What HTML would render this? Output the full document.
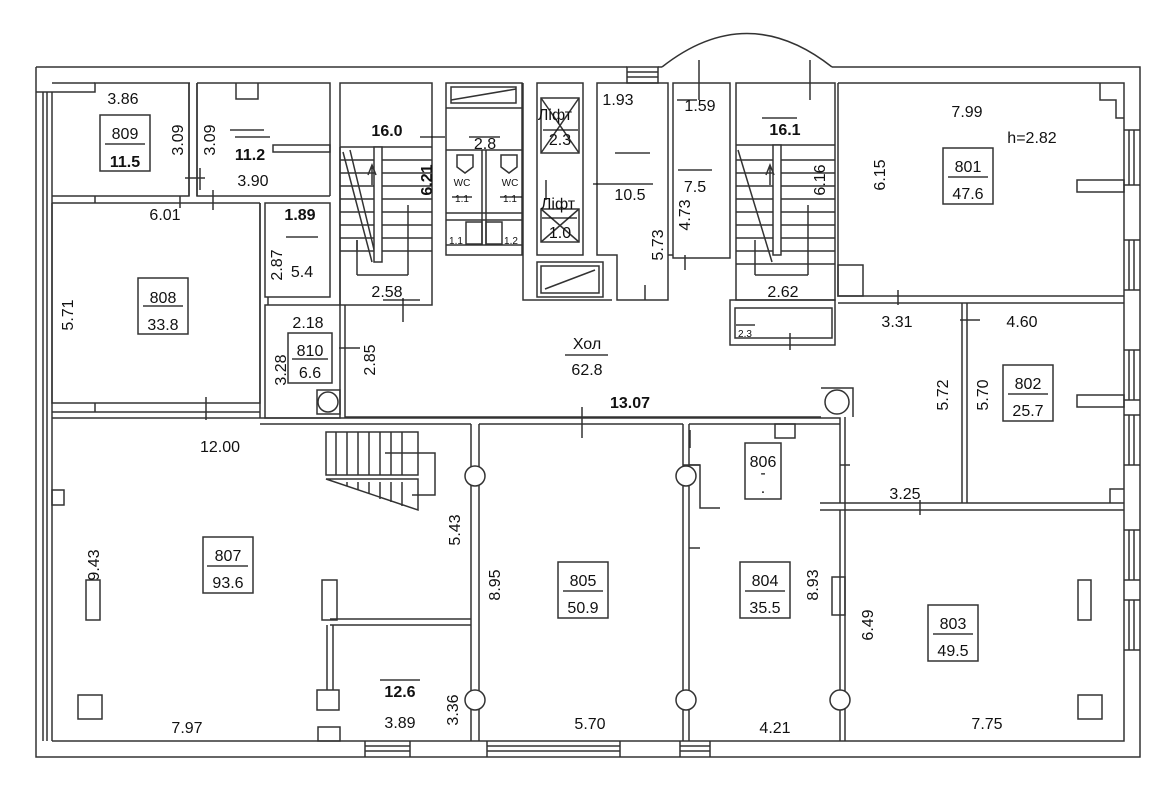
<!DOCTYPE html>
<html><head><meta charset="utf-8"><style>
body{margin:0;background:#fff;}
svg{display:block;}
text{font-family:"Liberation Sans",sans-serif;fill:#111;}
</style></head><body>
<svg width="1176" height="800" viewBox="0 0 1176 800" xmlns="http://www.w3.org/2000/svg">
<g fill="none" stroke="#333" stroke-width="1.5">
<!-- outer walls -->
<path d="M36 67 H627 M658 67 H662 M832 67 H1140 V757 H36 V67"/>
<path d="M36 92 H95 V83 H190 M197 83 H330 V196"/>
<path d="M43 92 V741 M47 92 V741 M52 92 V741"/>
<path d="M52 741 H1124 V83 H838"/>
<path d="M662 67 Q747 0 832 67"/>
<rect x="627" y="67" width="31" height="16"/><path d="M627 72H658M627 77H658"/>
<!-- windows right -->
<g><path d="M1124 130H1140M1124 185H1140M1129 130V185M1134 130V185"/>
<path d="M1124 240H1140M1124 290H1140M1129 240V290M1134 240V290"/>
<path d="M1124 350H1140M1124 400H1140M1129 350V400M1134 350V400"/>
<path d="M1124 415H1140M1124 465H1140M1129 415V465M1134 415V465"/>
<path d="M1124 530H1140M1124 580H1140M1129 530V580M1134 530V580"/>
<path d="M1124 600H1140M1124 650H1140M1129 600V650M1134 600V650"/></g>
<!-- windows bottom -->
<path d="M365 741V757M410 741V757M365 746H410M365 751H410"/>
<path d="M487 741V757M620 741V757M487 746H620M487 751H620"/>
<path d="M680 741V757M710 741V757M680 746H710M680 751H710"/>
<!-- 809 / 11.2 -->
<path d="M52 83 H95 M52 196 H95 V203 M95 196 H189 V83 M197 83 V196 H330"/>
<path d="M189 83 V196 M197 83 V196 M52 203 H260"/>
<path d="M236 83 V99 H258 V83"/>
<path d="M273 145 H330 V152 H273 Z"/>
<!-- 808 -->
<path d="M52 203 V403 H95 V412 M95 403 H260 V203 M260 418 H52"/>
<path d="M52 412 H260 M260 203 V418"/>
<!-- 5.4 / 810 -->
<path d="M265 203 H330 V297 H265 Z M265 305 H340 V418 H265 Z M345 305 V418"/>
<rect x="317" y="390" width="23" height="24"/><circle cx="328" cy="402" r="10"/>
<!-- stair 16.0 -->
<rect x="340" y="83" width="92" height="222"/>
<path d="M340 147 H432 M340 147 V305"/>
<path d="M340 160H432M340 173H432M340 186H432M340 199H432M340 212H432M340 225H432M340 238H432M340 251H432"/>
<path d="M343 152 L372 262 M350 150 L377 262"/>
<rect x="374" y="147" width="8" height="115" fill="#fff"/>
<path d="M357 275 V240 M408 275 V205 M357 275 H408"/>
<path d="M372 185V165M368 175L372 165L376 175M357 250V240"/>
<!-- WC block -->
<rect x="446" y="83" width="76" height="172"/>
<rect x="451" y="87" width="65" height="16"/><path d="M451 100 L516 89"/>
<path d="M446 108H522M446 150H522M446 213H522M446 220H522M446 245H522"/>
<path d="M482 150V245M486 150V245"/>
<path d="M457 155h16v12l-8 6l-8-6z M501 155h16v12l-8 6l-8-6z"/>
<rect x="466" y="222" width="16" height="22"/><rect x="486" y="222" width="16" height="22"/>
<!-- lift column -->
<rect x="537" y="83" width="46" height="172"/>
<rect x="541" y="98" width="38" height="55"/><path d="M541 98L579 153M579 98L541 153"/>
<rect x="541" y="209" width="38" height="33"/><path d="M541 209L579 242M579 209L541 242"/>
<rect x="537" y="262" width="66" height="35"/><rect x="541" y="266" width="58" height="27"/><path d="M545 289L595 270"/>
<path d="M523 83 V300 H612"/>
<!-- 10.5 -->
<path d="M597 83 H668 V300 H617 V255 H597 Z"/>
<!-- 7.5 -->
<path d="M673 83 H730 V258 H673 Z M668 255 H673"/>
<!-- stair 16.1 -->
<rect x="736" y="83" width="99" height="217"/>
<path d="M736 145 H835"/>
<path d="M736 160H835M736 173H835M736 186H835M736 199H835M736 212H835M736 225H835M736 238H835M736 251H835M736 264H835"/>
<path d="M738 150 L772 262"/>
<rect x="773" y="145" width="8" height="110" fill="#fff"/>
<path d="M755 275V240M808 275V205M755 275H808"/>
<path d="M770 185V165M766 175L770 165L774 175"/>
<rect x="730" y="300" width="105" height="45"/><rect x="735" y="308" width="97" height="30"/>
<!-- 801 -->
<path d="M838 83 V296 H1124 M838 303 H1124"/>
<rect x="838" y="265" width="25" height="31"/>
<path d="M1077 180 H1124 V192 H1077 Z"/>
<path d="M1100 83 V100 H1116 V118 H1124"/>
<!-- 802 -->
<path d="M962 303 V503 M967 303 V503 M820 503 H1124 M820 510 H1124"/>
<path d="M1077 395 H1124 V407 H1077 Z M1110 503V489H1124"/>
<!-- hall -->
<path d="M260 418 H840 V503 M260 424 H471 M479 424 H683 M689 424 H840 M845 417 V741 M840 510 V741"/>
<path d="M345 417 H821 M821 388 H853 V417"/>
<circle cx="837" cy="402" r="12"/>
<!-- 807 stair -->
<path d="M326 432 H418 V475 H326 Z M326 479 H418 V510 Z"/>
<path d="M336 432V475M347 432V475M358 432V475M369 432V475M380 432V475M391 432V475M402 432V475"/>
<path d="M336 482V483M347 482V486M358 482V490M369 482V494M380 482V499M391 482V502M402 482V506"/>
<path d="M385 453H435V495H412"/>
<!-- column walls -->
<path d="M471 424 V741 M479 424 V741 M683 424 V741 M689 424 V741"/>
<circle cx="475" cy="476" r="10" fill="#fff"/><circle cx="475" cy="700" r="10" fill="#fff"/>
<circle cx="686" cy="476" r="10" fill="#fff"/><circle cx="686" cy="700" r="10" fill="#fff"/>
<circle cx="840" cy="700" r="10" fill="#fff"/>
<path d="M689 465H700V508H720"/>
<rect x="775" y="424" width="20" height="14"/>
<!-- 12.6 -->
<path d="M330 619 H471 M330 625 H471 M327 625 V690 M333 625 V690"/>
<rect x="322" y="580" width="15" height="40"/>
<rect x="317" y="690" width="22" height="20"/><rect x="318" y="727" width="22" height="14"/>
<!-- pillars misc -->
<rect x="52" y="490" width="12" height="15"/>
<rect x="86" y="580" width="14" height="40"/>
<rect x="78" y="695" width="24" height="24"/>
<rect x="1078" y="580" width="13" height="40"/>
<rect x="1078" y="695" width="24" height="24"/>
<rect x="832" y="577" width="13" height="38"/>
<!-- door ticks -->
<path d="M200 168V190M185 178H205M213 190V210M180 196V208M546 180V200M206 397V420M403 298V322M268 297V305M339 348H360M582 407V438M898 290V305M960 320H980M690 430V448M683 465H700M840 465H850M920 500V515M689 548H700M790 333V350M645 285V300M685 255V270M677 100H697M699 60V100M810 60V100"/>
<!-- room label boxes -->
<rect x="100" y="115" width="50" height="56"/>
<rect x="138" y="278" width="50" height="56"/>
<rect x="288" y="333" width="44" height="50"/>
<rect x="943" y="148" width="50" height="56"/>
<rect x="1003" y="365" width="50" height="56"/>
<rect x="745" y="443" width="36" height="56"/>
<rect x="203" y="537" width="50" height="56"/>
<rect x="558" y="562" width="50" height="56"/>
<rect x="740" y="562" width="50" height="56"/>
<rect x="928" y="605" width="50" height="56"/>
</g>
<g stroke="#111" stroke-width="1.2">
<path d="M105 144H145M143 306H183M292 359H328M948 177H988M1008 394H1048M207 566H248M563 591H603M745 591H785M933 634H973M565 355H608"/>
<path d="M230 130H264M235 137H270M420 137H445M469 137H500M615 153H650M678 170H712M762 118H797M383 300H420M543 130H578M542 218H577M593 184H653M452 197H472M500 197H522M286 237H318M380 680H420M736 325H755"/>
</g>
<g font-size="16" text-anchor="middle">
<text x="123" y="104">3.86</text>
<text x="125" y="139">809</text><text x="125" y="167" font-weight="bold">11.5</text>
<text x="250" y="160" font-weight="bold">11.2</text><text x="253" y="186">3.90</text>
<text x="165" y="220">6.01</text>
<text x="300" y="220" font-weight="bold">1.89</text>
<text x="302" y="277">5.4</text>
<text x="163" y="303">808</text><text x="163" y="330">33.8</text>
<text x="308" y="328">2.18</text>
<text x="310" y="356">810</text><text x="310" y="378">6.6</text>
<text x="387" y="136" font-weight="bold">16.0</text>
<text x="387" y="297">2.58</text>
<text x="485" y="149">2.8</text>
<text x="618" y="105">1.93</text>
<text x="700" y="111">1.59</text>
<text x="630" y="200">10.5</text>
<text x="695" y="192">7.5</text>
<text x="785" y="135" font-weight="bold">16.1</text>
<text x="783" y="297">2.62</text>
<text x="967" y="117">7.99</text>
<text x="1032" y="143">h=2.82</text>
<text x="968" y="172">801</text><text x="968" y="199">47.6</text>
<text x="897" y="327">3.31</text>
<text x="1022" y="327">4.60</text>
<text x="1028" y="389">802</text><text x="1028" y="416">25.7</text>
<text x="587" y="349">Хол</text><text x="587" y="375">62.8</text>
<text x="630" y="408" font-weight="bold">13.07</text>
<text x="220" y="452">12.00</text>
<text x="763" y="467">806</text><text x="763" y="478">-</text><text x="763" y="493">.</text>
<text x="905" y="499">3.25</text>
<text x="228" y="561">807</text><text x="228" y="588">93.6</text>
<text x="583" y="586">805</text><text x="583" y="613">50.9</text>
<text x="765" y="586">804</text><text x="765" y="613">35.5</text>
<text x="953" y="629">803</text><text x="953" y="656">49.5</text>
<text x="400" y="697" font-weight="bold">12.6</text>
<text x="400" y="728">3.89</text>
<text x="187" y="733">7.97</text>
<text x="590" y="729">5.70</text>
<text x="775" y="733">4.21</text>
<text x="987" y="729">7.75</text>
<text x="555" y="120">Ліфт</text><text x="560" y="145">2.3</text>
<text x="558" y="209">Ліфт</text><text x="560" y="238">1.0</text>
</g>
<g font-size="10" text-anchor="middle">
<text x="462" y="186">WC</text><text x="510" y="186">WC</text>
<text x="462" y="202">1.1</text><text x="510" y="202">1.1</text>
<text x="456" y="244">1.1</text><text x="511" y="244">1.2</text>
<text x="745" y="337">2.3</text>
</g>
<g font-size="16" text-anchor="middle">
<text transform="translate(183,140) rotate(-90)">3.09</text>
<text transform="translate(215,140) rotate(-90)">3.09</text>
<text transform="translate(432,180) rotate(-90)" font-weight="bold">6.21</text>
<text transform="translate(282,265) rotate(-90)">2.87</text>
<text transform="translate(73,315) rotate(-90)">5.71</text>
<text transform="translate(286,370) rotate(-90)">3.28</text>
<text transform="translate(375,360) rotate(-90)">2.85</text>
<text transform="translate(663,245) rotate(-90)">5.73</text>
<text transform="translate(690,215) rotate(-90)">4.73</text>
<text transform="translate(825,180) rotate(-90)">6.16</text>
<text transform="translate(885,175) rotate(-90)">6.15</text>
<text transform="translate(948,395) rotate(-90)">5.72</text>
<text transform="translate(988,395) rotate(-90)">5.70</text>
<text transform="translate(460,530) rotate(-90)">5.43</text>
<text transform="translate(99,565) rotate(-90)">9.43</text>
<text transform="translate(500,585) rotate(-90)">8.95</text>
<text transform="translate(818,585) rotate(-90)">8.93</text>
<text transform="translate(873,625) rotate(-90)">6.49</text>
<text transform="translate(458,710) rotate(-90)">3.36</text>
</g>
</svg>
</body></html>
